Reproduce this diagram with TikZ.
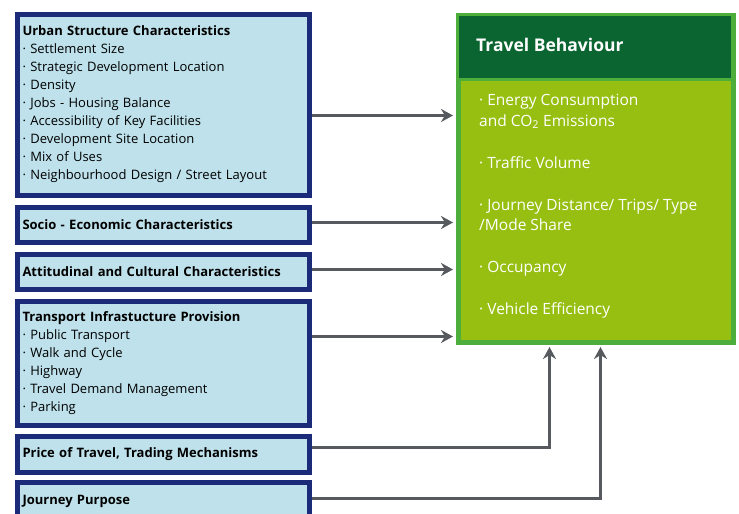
\documentclass[tikz,border=0pt]{standalone}
\usepackage{fontspec}
\setmainfont{Open Sans}
\usepackage{xcolor}
\usetikzlibrary{arrows.meta,positioning}

\definecolor{boxblue}{HTML}{BEE1EB}
\definecolor{boxnavy}{HTML}{1C2A7A}
\definecolor{tbhead}{HTML}{0A6531}
\definecolor{tbbody}{HTML}{97BF12}
\definecolor{tbborder}{HTML}{4DAE3B}
\definecolor{arrgray}{HTML}{56595D}

\begin{document}
\begin{tikzpicture}[x=1pt, y=-1pt,
    lbox/.style={draw=boxnavy, fill=boxblue, line width=5pt, anchor=north west,
        text width=281pt, inner xsep=5.5pt, inner ysep=0pt, align=left,
        font=\fontsize{13}{18}\selectfont},
    arr/.style={draw=arrgray, line width=3pt, -{Stealth[length=12pt,width=13pt]},
        shorten >=2.5pt}]
\useasboundingbox (0,0) rectangle (739,514);

% factors on the left
\node[lbox, minimum height=181pt] (urban) at (14.5,11.5)
    {\textbf{Urban Structure Characteristics}\\
     · Settlement Size\\
     · Strategic Development Location\\
     · Density\\
     · Jobs - Housing Balance\\
     · Accessibility of Key Facilities\\
     · Development Site Location\\
     · Mix of Uses\\
     · Neighbourhood Design / Street Layout};
\node[lbox, minimum height=35pt] (socio) at (14.5,204.5)
    {\textbf{Socio - Economic Characteristics}};
\node[lbox, minimum height=35pt] (attit) at (14.5,251.5)
    {\textbf{Attitudinal and Cultural Characteristics}};
\node[lbox, minimum height=124pt] (transp) at (14.5,298.5)
    {\textbf{Transport Infrastucture Provision}\\
     · Public Transport\\
     · Walk and Cycle\\
     · Highway\\
     · Travel Demand Management\\
     · Parking};
\node[lbox, minimum height=36pt] (price) at (14.5,433.5)
    {\textbf{Price of Travel, Trading Mechanisms}};
\node[lbox, minimum height=38.5pt] (purpose) at (14.5,479.5)
    {\textbf{Journey Purpose}};

% travel behaviour box
\node[draw=tbborder, fill=tbbody, line width=5pt, anchor=north west,
    minimum width=275pt, minimum height=327pt] (travel) at (455.5,12.5) {};
\node[draw=tbborder, fill=tbhead, line width=3pt, anchor=north west,
    minimum width=275pt, minimum height=65pt] (head) at (travel.north west) {};
\node[anchor=west, text=white, inner sep=0pt,
    font=\bfseries\fontsize{17.5}{20}\selectfont] (headlbl)
    at ([xshift=20.5pt,yshift=2pt]head.west) {Travel Behaviour};
\node[anchor=north west, text=white, align=left, inner sep=0pt,
    font=\fontsize{15.5}{20.5}\selectfont] (items) at (479,94)
    {· Energy Consumption\\
     and CO\textsubscript{2} Emissions\\[21.5pt]
     · Traffic Volume\\[21.5pt]
     · Journey Distance/ Trips/ Type\\
     /Mode Share\\[21.5pt]
     · Occupancy\\[21.5pt]
     · Vehicle Efficiency};

% connectors
\draw[arr] ([yshift=-11pt]urban.east) -- ([yshift=-11pt]urban.east -| travel.west);
\draw[arr] ([yshift=2pt]socio.east) -- ([yshift=2pt]socio.east -| travel.west);
\draw[arr] ([yshift=2pt]attit.east) -- ([yshift=2pt]attit.east -| travel.west);
\draw[arr] ([yshift=26.5pt]transp.east) -- ([yshift=26.5pt]transp.east -| travel.west);
\draw[arr] ([yshift=6.5pt]price.east) -| ([xshift=-46pt]travel.south);
\draw[arr] ([yshift=2.75pt]purpose.east) -| ([xshift=5pt]travel.south);
\end{tikzpicture}
\end{document}
